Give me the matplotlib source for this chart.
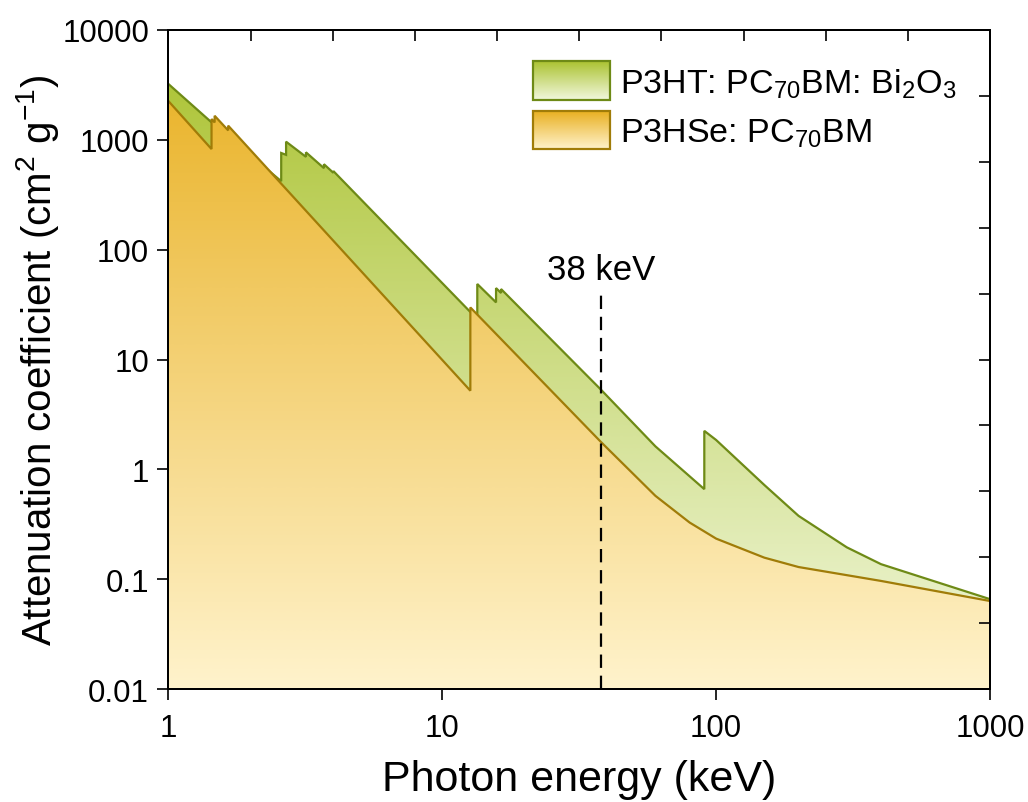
import numpy as np
import matplotlib.pyplot as plt
from matplotlib.image import AxesImage
from matplotlib.patches import Rectangle
from matplotlib.colors import LinearSegmentedColormap

plt.rcParams['font.family'] = ['Liberation Sans', 'DejaVu Sans']
plt.rcParams['mathtext.fontset'] = 'custom'
plt.rcParams['mathtext.rm'] = 'Liberation Sans'
plt.rcParams['mathtext.it'] = 'Liberation Sans:italic'

# photon energy (keV) vs mass attenuation coefficient (cm2/g)
energy_bi = [1, 1.436, 2.58, 2.58, 2.688, 2.688, 3.177, 3.177, 3.696, 3.696,
             3.999, 3.999, 13.419, 13.419, 15.711, 15.711, 16.388, 16.388,
             38, 60, 90.53, 90.53, 100, 150, 200, 300, 400, 1000]
mu_bi = [3220, 1443, 420, 759, 730, 962, 700, 770, 552, 600,
         501, 520, 23.3, 48.7, 33.1, 44.7, 40.3, 43.8,
         5.3, 1.62, 0.66, 2.24, 1.85, 0.72, 0.377, 0.195, 0.137, 0.0658]

energy_se = [1, 1.436, 1.436, 1.474, 1.474, 1.652, 1.652, 12.658, 12.658,
             38, 60, 80, 100, 150, 200, 400, 1000]
mu_se = [2250, 824, 1546, 1440, 1656, 1218, 1346, 5.2, 29.8,
         1.77, 0.574, 0.328, 0.234, 0.157, 0.129, 0.0964, 0.0633]

label_bi = 'P3HT: PC$_{70}$BM: Bi$_2$O$_3$'
label_se = 'P3HSe: PC$_{70}$BM'
marker_energy = 38
marker_top = 42

GREEN_TOP, GREEN_BOT, GREEN_EDGE = '#a9c12c', '#f2f8de', '#6e8a16'
ORANGE_TOP, ORANGE_BOT, ORANGE_EDGE = '#e8ae1c', '#fff3cc', '#a07c08'
NARROW = ['Liberation Sans Narrow', 'Liberation Sans']


def gradient_image(ax, top, bottom, extent, z):
    cmap = LinearSegmentedColormap.from_list('grad', [bottom, top])
    im = AxesImage(ax, cmap=cmap, origin='lower', extent=extent,
                   transform=ax.transAxes, interpolation='bilinear', zorder=z)
    im.set_data(np.linspace(0, 1, 256).reshape(-1, 1))
    ax.add_image(im)
    return im


def gradient_area(ax, x, y, top, bottom, edge, z):
    poly = ax.fill_between(x, 1e-4, y, facecolor='none', edgecolor='none')
    im = gradient_image(ax, top, bottom, [0, 1, 0, 1], z)
    im.set_clip_path(poly.get_paths()[0], transform=ax.transData)
    ax.plot(x, y, color=edge, lw=1.6, zorder=z + 0.1, solid_joinstyle='miter')


fig = plt.figure(figsize=(10.28, 8.03), dpi=100)
ax = fig.add_axes([0.1639, 0.1407, 0.7991, 0.8207])
ax.set_xscale('log')
ax.set_yscale('log')
ax.set_xlim(1, 1000)
ax.set_ylim(0.01, 10000)

gradient_area(ax, energy_bi, mu_bi, GREEN_TOP, GREEN_BOT, GREEN_EDGE, 1)
gradient_area(ax, energy_se, mu_se, ORANGE_TOP, ORANGE_BOT, ORANGE_EDGE, 2)

ax.vlines(marker_energy, 0.01, marker_top, color='black', lw=1.6,
          linestyles=(0, (6, 3.5)), zorder=3)
ax.text(marker_energy, 66, f'{marker_energy} keV', ha='center', va='center',
        fontsize=25, zorder=4)

# legend with gradient swatches
for (y0, y1), top, bot, edge, lab in [((0.894, 0.9534), GREEN_TOP, GREEN_BOT, GREEN_EDGE, label_bi),
                                      ((0.8194, 0.8775), ORANGE_TOP, ORANGE_BOT, ORANGE_EDGE, label_se)]:
    gradient_image(ax, top, bot, [0.4434, 0.5374, y0, y1], 5)
    ax.add_patch(Rectangle((0.4434, y0), 0.094, y1 - y0, transform=ax.transAxes,
                           facecolor='none', edgecolor=edge, lw=1.6, zorder=6))
    ax.text(0.5496, y0 + 0.0115, lab, transform=ax.transAxes, fontsize=24.5,
            va='baseline', ha='left', zorder=6)

ax.set_xticks([1, 10, 100, 1000])
ax.set_xticklabels(['1', '10', '100', '1000'])
ax.set_yticks([0.01, 0.1, 1, 10, 100, 1000, 10000])
ax.set_yticklabels(['0.01', '0.1', '1', '10', '100', '1000', '10000'])
ax.tick_params(which='major', direction='out', length=8, width=1.2,
               labelsize=22.5, pad=6, top=False, right=False)
ax.tick_params(which='minor', direction='out', length=4.5, width=1.1,
               top=False, right=False)
ax.tick_params(axis='x', pad=9)
for s in ax.spines.values():
    s.set_linewidth(1.3)

ax.set_xlabel('Photon energy (keV)', fontsize=31, family=NARROW, labelpad=12)
ax.set_ylabel('Attenuation coefficient (cm$^2$ g$^{-1}$)', fontsize=29,
              family=NARROW, labelpad=1)

# mirror axes carry plain, evenly spaced inward ticks
axr = ax.twinx()
axr.set_ylim(0, 1)
axr.set_yticks(np.arange(0.1, 0.95, 0.1))
axr.tick_params(direction='in', length=8, width=1.2, labelright=False)
axt = ax.twiny()
axt.set_xscale('linear')
axt.set_xlim(0, 1)
axt.set_xticks(np.arange(0.1, 0.95, 0.1))
axt.tick_params(direction='in', length=8, width=1.2, labeltop=False)
for a in (axr, axt):
    a.minorticks_off()
    for s in a.spines.values():
        s.set_linewidth(1.3)

fig.savefig('out.png', dpi=100)
